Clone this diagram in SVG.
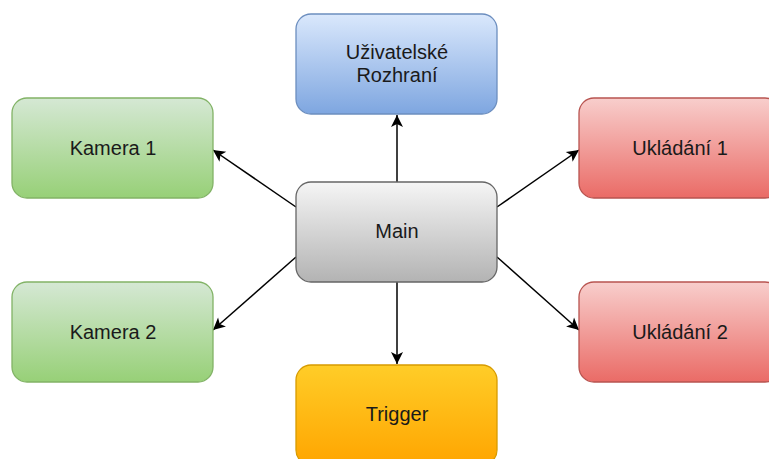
<svg xmlns="http://www.w3.org/2000/svg" width="769" height="459" viewBox="0 0 769 459">
<defs>
<linearGradient id="gBlue" x1="0" y1="0" x2="0" y2="1"><stop offset="0" stop-color="#dae8fc"/><stop offset="1" stop-color="#7ea6e0"/></linearGradient>
<linearGradient id="gGreen" x1="0" y1="0" x2="0" y2="1"><stop offset="0" stop-color="#d5e8d4"/><stop offset="1" stop-color="#97d077"/></linearGradient>
<linearGradient id="gGray" x1="0" y1="0" x2="0" y2="1"><stop offset="0" stop-color="#f5f5f5"/><stop offset="1" stop-color="#b3b3b3"/></linearGradient>
<linearGradient id="gOrange" x1="0" y1="0" x2="0" y2="1"><stop offset="0" stop-color="#ffcd28"/><stop offset="1" stop-color="#ffa500"/></linearGradient>
<linearGradient id="gRed" x1="0" y1="0" x2="0" y2="1"><stop offset="0" stop-color="#f8cecc"/><stop offset="1" stop-color="#ea6b66"/></linearGradient>
<marker id="arr" markerUnits="userSpaceOnUse" markerWidth="14" markerHeight="14" viewBox="0 0 14 14" refX="13" refY="7" orient="auto">
<path d="M1,1 L13,7 L1,13 L4,7 Z" fill="#000"/>
</marker>
</defs>
<style>
text{font-family:"Liberation Sans",Arial,sans-serif;font-size:20px;fill:#1a1a1a;text-anchor:middle;dominant-baseline:central}
.e{stroke:#000;stroke-width:1.5;fill:none;marker-end:url(#arr)}
</style>
<rect width="769" height="459" fill="#fff"/>
<g id="connectors">
<line class="e" x1="397" y1="182" x2="397" y2="115"/>
<line class="e" x1="397" y1="282" x2="397" y2="364"/>
<line class="e" x1="296" y1="207" x2="213" y2="150"/>
<line class="e" x1="296" y1="257" x2="213" y2="330"/>
<line class="e" x1="497" y1="207" x2="579" y2="150"/>
<line class="e" x1="497" y1="257" x2="579" y2="330"/>
</g>
<g id="ui">
<rect x="296" y="14" width="201" height="100" rx="15" fill="url(#gBlue)" stroke="#6c8ebf" stroke-width="1.3"/>
<text x="397" y="52">Uživatelské</text>
<text x="397" y="75">Rozhraní</text>
</g>
<g id="kamera1">
<rect x="12" y="98" width="201" height="100" rx="15" fill="url(#gGreen)" stroke="#82b366" stroke-width="1.3"/>
<text x="113" y="148">Kamera 1</text>
</g>
<g id="kamera2">
<rect x="12" y="282" width="201" height="100" rx="15" fill="url(#gGreen)" stroke="#82b366" stroke-width="1.3"/>
<text x="113" y="332">Kamera 2</text>
</g>
<g id="main">
<rect x="296" y="182" width="201" height="100" rx="15" fill="url(#gGray)" stroke="#666666" stroke-width="1.3"/>
<text x="397" y="231">Main</text>
</g>
<g id="trigger">
<rect x="296" y="365" width="201" height="100" rx="15" fill="url(#gOrange)" stroke="#d79b00" stroke-width="1.3"/>
<text x="397" y="414">Trigger</text>
</g>
<g id="ukladani1">
<rect x="579" y="98" width="201" height="100" rx="15" fill="url(#gRed)" stroke="#b85450" stroke-width="1.3"/>
<text x="680" y="148">Ukládání 1</text>
</g>
<g id="ukladani2">
<rect x="579" y="282" width="201" height="100" rx="15" fill="url(#gRed)" stroke="#b85450" stroke-width="1.3"/>
<text x="680" y="332">Ukládání 2</text>
</g>
</svg>
